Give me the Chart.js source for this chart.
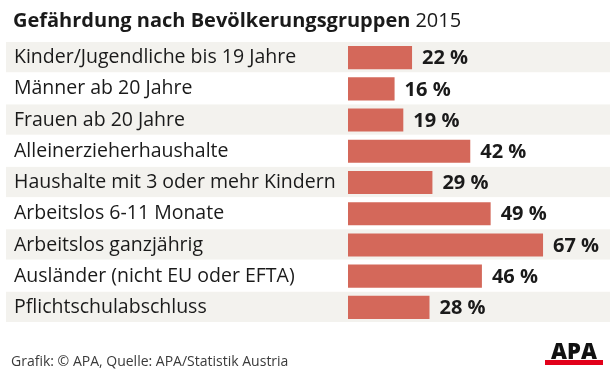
<!DOCTYPE html>
<html>
<head>
<meta charset="utf-8">
<script src="https://cdn.jsdelivr.net/npm/chart.js@4"></script>
<style>
  html, body { margin: 0; padding: 0; background: #fff; }
  canvas { display: block; }
</style>
</head>
<body>
<canvas id="myChart" width="616" height="376"></canvas>
<script>
const titleBold = 'Gefährdung nach Bevölkerungsgruppen';
const titleYear = '2015';
const groups = [
  'Kinder/Jugendliche bis 19 Jahre',
  'Männer ab 20 Jahre',
  'Frauen ab 20 Jahre',
  'Alleinerzieherhaushalte',
  'Haushalte mit 3 oder mehr Kindern',
  'Arbeitslos 6-11 Monate',
  'Arbeitslos ganzjährig',
  'Ausländer (nicht EU oder EFTA)',
  'Pflichtschulabschluss'
];
const shares = [22, 16, 19, 42, 29, 49, 67, 46, 28];
const source = 'Grafik: © APA, Quelle: APA/Statistik Austria';
const logoText = 'APA';

const FONT = '"Open Sans", sans-serif';

// striped rows, drawn before the axis labels
const bands = {
  id: 'bands',
  beforeDraw(chart) {
    const ctx = chart.ctx;
    const y = chart.scales.y;
    const h = (y.bottom - y.top) / groups.length;
    ctx.save();
    ctx.fillStyle = '#f3f2ee';
    groups.forEach((g, i) => {
      if (i % 2 === 0) {
        const c = y.getPixelForValue(i);
        ctx.fillRect(6, c - h / 2, 604, h - 1);
      }
    });
    ctx.restore();
  }
};

// "22 %" etc after the bars, plus title / footer / logo
const extras = {
  id: 'extras',
  afterDatasetsDraw(chart) {
    const ctx = chart.ctx;
    ctx.save();
    ctx.fillStyle = '#1a1a1a';
    ctx.font = 'bold 20px ' + FONT;
    ctx.textBaseline = 'middle';
    ctx.textAlign = 'left';
    chart.getDatasetMeta(0).data.forEach((bar, i) => {
      ctx.fillText(shares[i] + ' %', bar.x + 10, bar.y + 1);
    });

    ctx.textBaseline = 'alphabetic';
    ctx.font = 'bold 20px ' + FONT;
    ctx.fillText(titleBold, 13, 27);
    const w = ctx.measureText(titleBold).width;
    ctx.font = '20px ' + FONT;
    ctx.fillText(titleYear, 13 + w + 5, 27);

    ctx.fillStyle = '#3a3a3a';
    ctx.font = '14px ' + FONT;
    ctx.fillText(source, 11, 366);

    ctx.fillStyle = '#e2001a';
    ctx.fillRect(545, 360, 58, 5);
    ctx.fillStyle = '#111';
    ctx.font = '900 22px ' + FONT;
    ctx.textAlign = 'center';
    ctx.fillText(logoText, 574, 359);
    ctx.restore();
  }
};

new Chart(document.getElementById('myChart'), {
  type: 'bar',
  data: {
    labels: groups,
    datasets: [{
      data: shares,
      backgroundColor: '#d4685a',
      categoryPercentage: 1,
      barPercentage: 0.74
    }]
  },
  options: {
    indexAxis: 'y',
    responsive: false,
    animation: false,
    devicePixelRatio: 1,
    layout: { padding: { top: 42, bottom: 53, left: 14, right: 6 } },
    plugins: {
      legend: { display: false },
      tooltip: { enabled: false }
    },
    scales: {
      x: { display: false, min: 0, max: 90 },
      y: {
        grid: { display: false },
        border: { display: false },
        ticks: {
          crossAlign: 'far',
          color: '#1a1a1a',
          autoSkip: false,
          font: { family: FONT, size: 19.5 }
        },
        afterFit(scale) { scale.width = 334; }
      }
    }
  },
  plugins: [bands, extras]
});
</script>
</body>
</html>
